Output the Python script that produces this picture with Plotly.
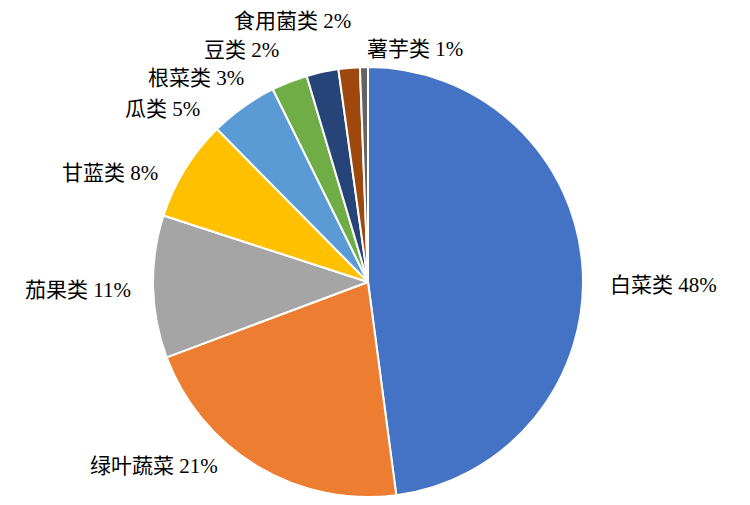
import numpy as np
import plotly.graph_objects as go

# vegetable categories, clockwise from 12 o'clock
categories = ["白菜类", "绿叶蔬菜", "茄果类", "甘蓝类", "瓜类", "根菜类", "豆类", "食用菌类", "薯芋类"]
shares = [47.9, 21.4, 10.7, 7.6, 5.1, 2.7, 2.4, 1.6, 0.6]
colors = ["#4472C4", "#ED7D31", "#A5A5A5", "#FFC000", "#5B9BD5",
          "#70AD47", "#264478", "#9E480E", "#636363"]

# label placement: which side of the text sits by the slice, and pixel nudge
label_anchor = ["left", "right", "right", "right", "right", "right", "right", "right", "left"]
label_shift = [(25, -17), (-37, 0), (-20, -3), (-25, -4), (-41, -2),
               (-43, 4), (-41, 22), (4, 47), (1, 18)]

W, H = 750, 505
# pie centre and radius in figure pixels (page has an 8px body offset)
cx, cy, r = 360, 274, 215

fig = go.Figure(
    data=[
        go.Pie(
            labels=categories,
            values=shares,
            sort=False,
            direction="clockwise",
            rotation=0,
            marker=dict(colors=colors, line=dict(color="white", width=2)),
            textinfo="none",
            hoverinfo="label+percent",
            showlegend=False,
            domain=dict(
                x=[(cx - r) / W, (cx + r) / W],
                y=[1 - (cy + r) / H, 1 - (cy - r) / H],
            ),
        )
    ]
)

# mid-angle of each slice (clockwise from top) -> point on the rim, in paper coords
vals = np.array(shares, dtype=float)
frac = vals / vals.sum()
mid = (np.cumsum(frac) - frac / 2) * 2 * np.pi
rim_x = (cx + r * np.sin(mid)) / W
rim_y = 1 - (cy - r * np.cos(mid)) / H

font = dict(family="Liberation Serif, Noto Sans CJK SC", size=21, color="black")
for i, name in enumerate(categories):
    fig.add_annotation(
        x=rim_x[i],
        y=rim_y[i],
        xref="paper",
        yref="paper",
        text=f"{name} {round(frac[i] * 100):.0f}%",
        showarrow=False,
        xanchor=label_anchor[i],
        yanchor="middle",
        xshift=label_shift[i][0],
        yshift=label_shift[i][1],
        font=font,
    )

fig.update_layout(
    width=W,
    height=H,
    margin=dict(l=0, r=0, t=0, b=0),
    paper_bgcolor="white",
    plot_bgcolor="white",
)
fig.write_html("out.html")
